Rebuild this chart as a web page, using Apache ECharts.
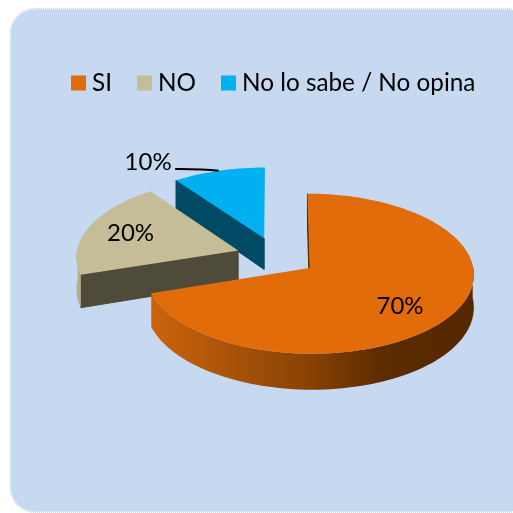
<!DOCTYPE html>
<html>
<head>
<meta charset="utf-8">
<style>html,body{margin:0;padding:0;background:#fff}#chart{width:513px;height:513px}</style>
<script src="https://cdn.jsdelivr.net/npm/echarts@6/dist/echarts.min.js"></script>
</head>
<body>
<div id="chart"></div>
<script>
// Survey answers, in percent, clockwise from twelve o'clock.
const categories = ['SI', 'NO', 'No lo sabe / No opina'];
const shares = [70, 20, 10];

const topColors = ['#E26B0A', '#C4BD97', '#00B0F0'];
const faceColors = ['#5A2A00', '#4F4B3B', '#004A66'];
const rimColors = ['', '#B5AE8B', ''];

// Where each percentage sits, in pie radii from the slice apex, with its clockwise bearing.
const labelRadius = [0.70, 0.72, 1.34];
const labelBearing = [131, 288.6, 324];

// Projection of the tilted pie onto the page.
const pie = {cx: 276.5, cy: 256.5, rx: 162, ry: 78, persp: 0.069, depth: 32, depthGrow: 0.11, explode: 0.25};
const FONT = 'Lato, "Open Sans", sans-serif';

const rad = d => d * Math.PI / 180;

// Page position of a point on the pie plane; u runs right, v towards the viewer.
function project(u, v) {
  const w = 1 - pie.persp * v;
  return [pie.cx + pie.rx * u / w, pie.cy + pie.ry * v / w];
}
function dropped(u, v) {
  const p = project(u, v);
  return [p[0], p[1] + pie.depth * (1 + pie.depthGrow * v)];
}

function startAngle(i) {
  let sum = 0;
  for (let k = 0; k < i; k++) sum += shares[k];
  return sum * 3.6;
}

function buildSlice(i, api) {
  const value = api.value(0);
  const a0 = startAngle(i);
  const a1 = a0 + value * 3.6;
  const mid = rad((a0 + a1) / 2);
  const ox = pie.explode * Math.sin(mid);
  const oy = -pie.explode * Math.cos(mid);
  const at = (deg, r) => [ox + r * Math.sin(rad(deg)), oy - r * Math.cos(rad(deg))];
  const apex = [ox, oy];
  const children = [];

  // Radial cut at the start of the slice.
  const s = at(a0, 1);
  children.push({
    type: 'polygon',
    shape: {points: [project(apex[0], apex[1]), project(s[0], s[1]), dropped(s[0], s[1]), dropped(apex[0], apex[1])]},
    style: {fill: faceColors[i], stroke: faceColors[i], lineWidth: 1}
  });

  // Outer wall, only where it turns towards the viewer.
  const wallFrom = Math.max(a0, 88);
  const wallTo = Math.min(a1, 272);
  if (wallTo > wallFrom) {
    const upper = [], lower = [];
    for (let d = wallFrom; d <= wallTo + 0.01; d += 2) {
      const q = at(d, 1);
      upper.push(project(q[0], q[1]));
      lower.push(dropped(q[0], q[1]));
    }
    const fill = rimColors[i] || new echarts.graphic.LinearGradient(0, 0, 1, 0, [
      {offset: 0, color: '#CB640C'},
      {offset: 0.2, color: '#B0560A'},
      {offset: 0.48, color: '#8A4303'},
      {offset: 0.72, color: '#5C2B00'},
      {offset: 1, color: '#562800'}
    ]);
    children.push({
      type: 'polygon',
      shape: {points: upper.concat(lower.reverse())},
      style: {fill: fill}
    });
  }

  // Top surface.
  const pts = [project(apex[0], apex[1])];
  for (let d = a0; d <= a1 + 0.01; d += 2) {
    const q = at(d, 1);
    pts.push(project(q[0], q[1]));
  }
  children.push({type: 'polygon', shape: {points: pts}, style: {fill: topColors[i]}});

  // Percentage label, with a leader to the rim when it lies outside the slice.
  const lb = rad(labelBearing[i]);
  const lp = project(apex[0] + labelRadius[i] * Math.sin(lb), apex[1] - labelRadius[i] * Math.cos(lb));
  const text = value + '%';
  if (labelRadius[i] > 1) {
    const e = at((a0 + a1) / 2, 1);
    const end = project(e[0], e[1]);
    const sx = lp[0] + 27, sy = lp[1] + 7;
    children.push({
      type: 'bezierCurve',
      shape: {x1: sx, y1: sy, x2: end[0], y2: end[1], cpx1: sx + 12, cpy1: sy, cpx2: end[0] - 16, cpy2: end[1] - 2},
      style: {stroke: '#000', lineWidth: 2, fill: null}
    });
  }
  children.push({
    type: 'text',
    style: {x: lp[0], y: lp[1], text: text, fill: '#000', font: '24px ' + FONT, align: 'center', verticalAlign: 'middle'}
  });
  return {type: 'group', children: children};
}

const chart = echarts.init(document.getElementById('chart'), null, {renderer: 'canvas'});
chart.setOption({
  animation: false,
  backgroundColor: '#fff',
  graphic: [{
    type: 'rect',
    z: -10,
    shape: {x: 11, y: 9.5, width: 521, height: 502, r: 24},
    style: {fill: '#C6D9F1', stroke: '#C6D9F1', lineWidth: 3, lineDash: [1, 1]}
  }],
  legend: {
    left: 71,
    top: 71,
    icon: 'rect',
    itemWidth: 15,
    itemHeight: 15,
    itemGap: 25,
    padding: 0,
    data: categories,
    textStyle: {fontFamily: FONT, fontSize: 24.3, color: '#000', padding: [0, 0, 0, 1]}
  },
  // Near slices are stacked last so they overlap the far ones.
  series: categories.map((name, i) => ({
    type: 'custom',
    name: name,
    coordinateSystem: 'none',
    z: 2 + (categories.length - i),
    color: topColors[i],
    data: [[shares[i]]],
    renderItem: (params, api) => buildSlice(i, api)
  }))
});
</script>
</body>
</html>
